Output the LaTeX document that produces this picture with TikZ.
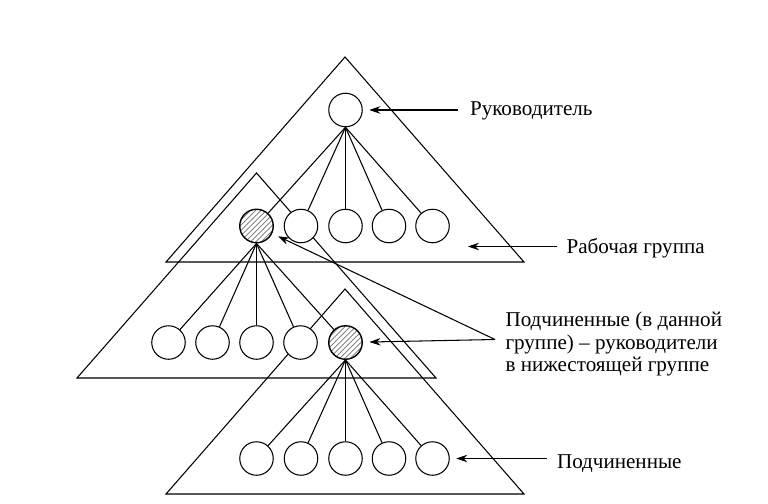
\documentclass[tikz,border=0pt]{standalone}
\usepackage{fontspec}
\setmainfont{Liberation Serif}
\usetikzlibrary{arrows.meta,patterns}

\tikzset{
  head/.style={preaction={fill=white},pattern=north east lines,pattern color=gray!90!black,line width=0.8pt},
  caption/.style={anchor=base west,inner sep=0pt,font=\fontsize{12}{12.8}\selectfont}
}

\begin{document}
\begin{tikzpicture}[>={Stealth[length=2.2mm,width=1.5mm]},line width=0.6pt]
			\useasboundingbox (0,0) rectangle (15.36,10.06);

			% groups
			\draw (6.90,8.92) -- (3.32,4.82) -- (10.48,4.82) -- cycle;
			\draw (5.13,6.60) -- (1.54,2.50) -- (8.72,2.50) -- cycle;
			\draw (6.90,4.28) -- (3.32,0.18) -- (10.48,0.18) -- cycle;

			\begin{scope}[every node/.style={circle,draw,fill=white,minimum size=6.7mm,inner sep=0pt}]
				\node (L) at (6.91,7.86) {};
				\node [head] (A1) at (5.13,5.54) {};
				\node (A2) at (6.02,5.54) {};
				\node (A3) at (6.91,5.54) {};
				\node (A4) at (7.78,5.54) {};
				\node (A5) at (8.65,5.54) {};
				\node (B1) at (3.37,3.21) {};
				\node (B2) at (4.25,3.21) {};
				\node (B3) at (5.13,3.21) {};
				\node (B4) at (6.01,3.21) {};
				\node [head] (B5) at (6.91,3.21) {};
				\node (C1) at (5.13,0.89) {};
				\node (C2) at (6.02,0.89) {};
				\node (C3) at (6.91,0.89) {};
				\node (C4) at (7.78,0.89) {};
				\node (C5) at (8.65,0.89) {};
			\end{scope}

			\begin{scope}[every edge/.style={draw}]
				\path (L.south) edge (A1) edge (A2) edge (A3) edge (A4) edge (A5);
				\path (A1.south) edge (B1) edge (B2) edge (B3) edge (B4) edge (B5);
				\path (B5.south) edge (C1) edge (C2) edge (C3) edge (C4) edge (C5);
			\end{scope}

			% labels
			\node [caption] (tLead) at (9.39,7.76) {Руководитель};
			\node [caption] (tGroup) at (11.32,4.99) {Рабочая группа};
			\node [caption,align=left] (tSub) at (10.10,2.63) {Подчиненные (в данной\\группе) – руководители\\в нижестоящей группе};
			\node [caption] (tLow) at (11.13,0.69) {Подчиненные};

			\coordinate (pLead) at (9.16,7.86);
			\coordinate (pGroup) at (11.14,5.13);
			\coordinate (gIn) at (9.36,5.13);
			\coordinate (pSub) at (9.90,3.27);
			\coordinate (pLow) at (10.93,0.89);

			\draw [->] (pGroup) -- (gIn);
			\begin{scope}[shorten >=1.3mm]
				\draw [->] (pLead) -- (L);
				\draw [->] (pSub) -- (A1);
				\draw [->] (pSub) -- (B5);
				\draw [->] (pLow) -- (C5);
			\end{scope}
		\end{tikzpicture}
\end{document}
